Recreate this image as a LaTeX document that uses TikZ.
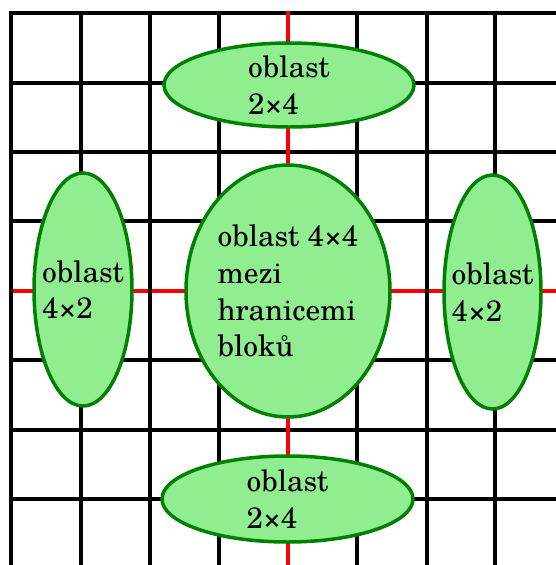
\documentclass[tikz,border=0pt]{standalone}
\usepackage{fontspec}
\setmainfont{TeX Gyre Schola}
\usetikzlibrary{shapes.geometric}
\begin{document}
\begin{tikzpicture}[x=1pt,y=-1pt,
  gridline/.style={black,line width=4pt},
  redline/.style={red,line width=4pt},
  area/.style={ellipse,draw=dgreen,line width=3.5pt,fill=lgreen,inner sep=0pt},
  areatext/.style={inner sep=0pt,align=left,font=\fontsize{29.5}{36.7}\selectfont}]
\definecolor{lgreen}{RGB}{144,238,144}
\definecolor{dgreen}{RGB}{0,128,0}
\useasboundingbox (0,0) rectangle (555,565);
% horizontal lines
\foreach \y in {13,83,152,221,360,430,499}
  \draw[gridline] (9,\y) -- (560,\y);
\draw[redline] (9,291) -- (560,291);
% vertical lines
\foreach \x in {11,81,150,219,357,427,495}
  \draw[gridline] (\x,10.5) -- (\x,570);
\draw[redline] (288,10.5) -- (288,570);
% areas
\node[area,minimum width=250pt,minimum height=84pt] (top) at (289,85) {};
\node[areatext] (toptext) at (top.center) {oblast\\2×4};
\node[area,minimum width=251pt,minimum height=86pt] (bottom) at (287.5,499) {};
\node[areatext] (bottomtext) at (bottom.center) {oblast\\2×4};
\node[area,minimum width=98pt,minimum height=233pt] (left) at (83,289.5) {};
\node[areatext] (lefttext) at (left.center) {oblast\\4×2};
\node[area,minimum width=97pt,minimum height=234pt] (right) at (492.5,292) {};
\node[areatext] (righttext) at (right.center) {oblast\\4×2};
\node[area,minimum width=204pt,minimum height=252pt] (center) at (288,291) {};
\node[areatext] (centertext) at (center.center) {oblast 4×4\\mezi\\hranicemi\\bloků};
\end{tikzpicture}
\end{document}
